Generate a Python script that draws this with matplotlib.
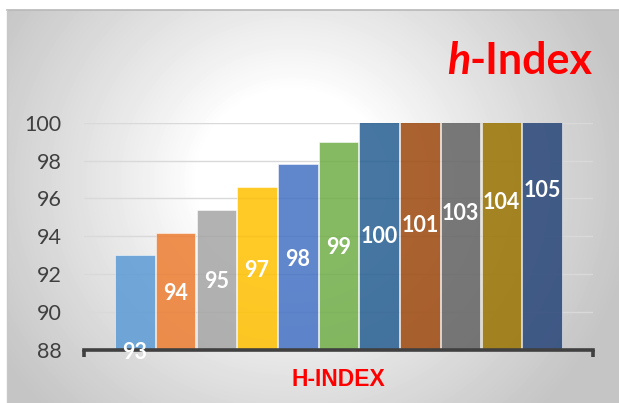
import numpy as np
import matplotlib
matplotlib.use("Agg")
import matplotlib.pyplot as plt
from matplotlib.colors import to_rgba
from matplotlib.lines import Line2D

# ---- data ----
series_values = [93, 94.2, 95.4, 96.6, 97.8, 99, 100.2, 101.4, 102.6, 103.8, 105]
series_colors = ["#5B9BD5", "#ED7D31", "#A5A5A5", "#FFC000", "#4472C4", "#70AD47",
                 "#255E91", "#9E480E", "#636363", "#997300", "#264478"]
y_ticks = [88, 90, 92, 94, 96, 98, 100]
category_label = "H-INDEX"
title_italic = "h"
title_rest = "-Index"

W, H = 619, 403
fig = plt.figure(figsize=(W / 100, H / 100), dpi=100)

# ---- gradient chart-area background ----
x0, y0 = 7, 10
bw, bh = W - x0, H - y0
yy, xx = np.mgrid[0:bh, 0:bw]
cx, cy = 285, 170
d = np.hypot((xx - cx) * 0.95, yy - cy)
shade = 1 - 0.23 * np.clip((d - 90) / 240, 0, 1) ** 0.9
bg = fig.add_axes([x0 / W, 0, bw / W, bh / H])
bg.imshow(shade, cmap="gray", vmin=0, vmax=1, aspect="auto", interpolation="bilinear")
bg.axis("off")
fig.add_artist(Line2D([x0 / W, 1], [1 - y0 / H, 1 - y0 / H], color="#B8B8B8", lw=1.2))
fig.add_artist(Line2D([x0 / W, x0 / W], [0, 1 - y0 / H], color="#C8C8C8", lw=1.0))

# ---- main axes ----
ax = fig.add_axes([84 / W, 53 / H, 509 / W, 227.3 / H])
ax.set_facecolor("none")
n = len(series_values)
ymin, ymax = y_ticks[0], y_ticks[-1]

for i, (v, c) in enumerate(zip(series_values, series_colors)):
    ax.bar(i, v, width=0.97, color=to_rgba(c, 0.85),
           edgecolor=(1, 1, 1, 0.6), linewidth=0.6, zorder=2)

ax.set_ylim(ymin, ymax)
ax.set_xlim(-1.25, n - 1 + 1.25)
ax.set_yticks(y_ticks)
ax.set_yticklabels([str(t) for t in y_ticks], fontsize=15.5, family="Lato", color="#404040")
ax.tick_params(axis="y", length=0, pad=16)

ax.set_axisbelow(True)
ax.yaxis.grid(True, color="#D9D9D9", lw=1.0)

for s in ["top", "left", "right"]:
    ax.spines[s].set_visible(False)
ax.spines["bottom"].set_color("#404040")
ax.spines["bottom"].set_linewidth(2.6)
ax.spines["bottom"].set_zorder(4)
ax.set_xticks(list(ax.get_xlim()))
ax.set_xticklabels([])
ax.tick_params(axis="x", length=4.8, width=2.6, color="#404040", direction="out")

# data labels
for i, v in enumerate(series_values):
    ly = ymin if i == 0 else (ymin + v) / 2
    ax.text(i, ly, f"{v:.0f}", ha="center", va="center_baseline", color="white",
            fontsize=15.5, fontweight="bold", family="Lato", zorder=6)

# axis title
ax.set_xlabel(category_label, color="#FF0000", fontsize=16.5, fontweight="bold",
              family="Liberation Sans")
ax.xaxis.set_label_coords(0.5, -0.1276)
ax.xaxis.label.set_va("center")

# chart title
t_rest = fig.text(593 / W, 1 - 73.5 / H, title_rest, ha="right", va="baseline",
                  fontsize=31, fontweight="bold", family="Lato", color="#FF0000")
fig.canvas.draw()
ext = t_rest.get_window_extent(renderer=fig.canvas.get_renderer())
fig.text(ext.x0 / W, 1 - 73.5 / H, title_italic, ha="right", va="baseline",
         fontsize=31, fontweight="bold", fontstyle="italic", family="Lato", color="#FF0000")

fig.savefig("out.png", dpi=100)
